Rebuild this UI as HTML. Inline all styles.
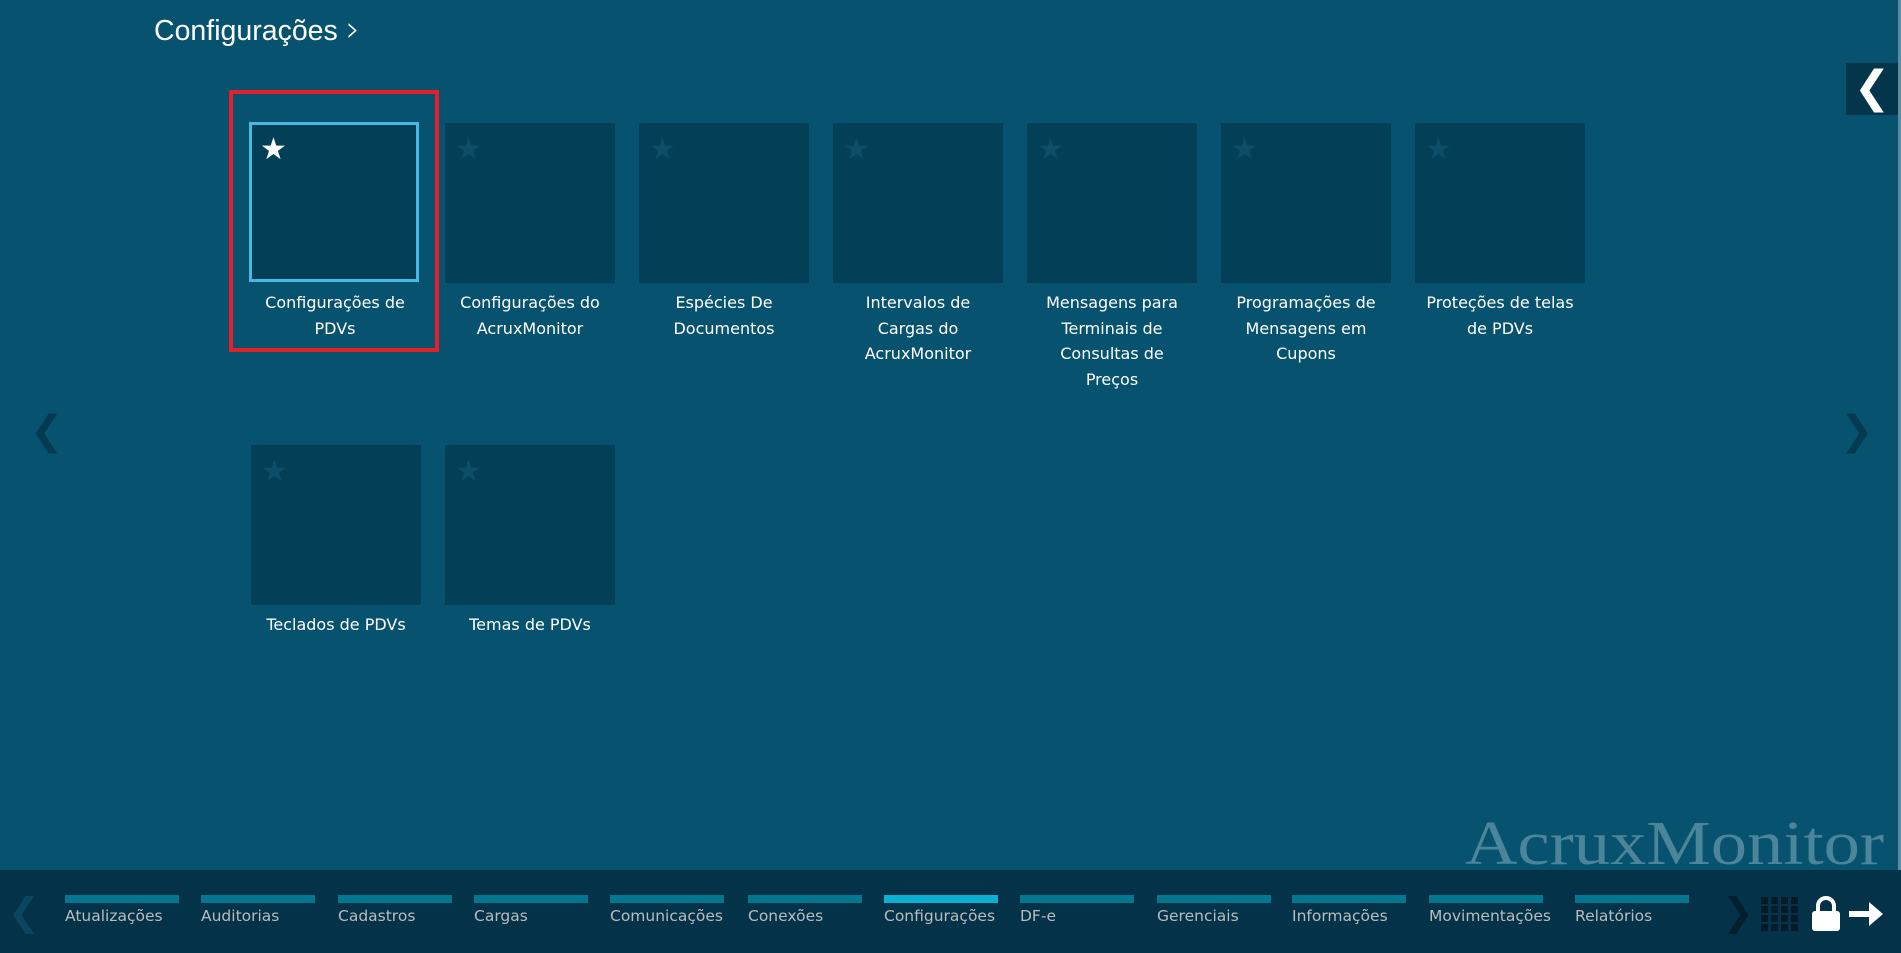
<!DOCTYPE html>
<html><head><meta charset="utf-8"><style>
*{margin:0;padding:0;box-sizing:border-box}
body{width:1901px;height:953px;overflow:hidden;background:#07536f;position:relative;font-family:"DejaVu Sans","Liberation Sans",sans-serif}
.title{position:absolute;left:154px;top:8px;font:28.5px "Liberation Sans",sans-serif;color:#fff;white-space:nowrap}
.tile{position:absolute;width:170px;height:160px;background:#033f57}
.tile .st{position:absolute;left:10px;top:12px;font-size:30px;color:#0d4d67;line-height:1}
.lbl{position:absolute;width:194px;text-align:center;color:#fff;font-size:16px;line-height:25.5px}
.red{position:absolute;left:229px;top:90px;width:210px;height:262px;border:4px solid #e5202a}
.bar{position:absolute;left:0;top:870px;width:1901px;height:83px;background:#043349}
.nav{position:absolute;top:895px}
.nav i{display:block;width:114px;height:8px;background:#057690}
.nav span{position:absolute;top:12px;left:0;white-space:nowrap;color:#b8bcbd;font-size:15.5px}
.wm{position:absolute;left:1465px;top:809px;font:62px "Liberation Serif",serif;color:#4b8599;transform:scaleX(1.17);transform-origin:0 0;white-space:nowrap}
</style></head><body>
<div class="title">Configurações <span style="font:36px 'DejaVu Sans';font-weight:200;position:relative;top:1px">&#x203A;</span></div>
<div style="position:absolute;left:1846px;top:63px;width:52px;height:52px;background:#03354b;color:#fff;font:bold 44px 'DejaVu Sans';text-align:center;line-height:50px">&#x276E;</div>
<div style="position:absolute;left:1898px;top:0;width:3px;height:870px;background:#5f8da0"></div>
<div style="position:absolute;left:30px;top:408px;color:#043a52;font-size:40px">&#x276E;</div>
<div style="position:absolute;left:1840px;top:408px;color:#043a52;font-size:40px">&#x276F;</div>

<div class="red"></div>
<div class="tile" style="left:249px;top:122px;border:3px solid #49b8e4"><div class="st" style="color:#fff;left:8px;top:10px">★</div></div>
<div class="tile" style="left:445px;top:123px"><div class="st">★</div></div>
<div class="tile" style="left:639px;top:123px"><div class="st">★</div></div>
<div class="tile" style="left:833px;top:123px"><div class="st">★</div></div>
<div class="tile" style="left:1027px;top:123px"><div class="st">★</div></div>
<div class="tile" style="left:1221px;top:123px"><div class="st">★</div></div>
<div class="tile" style="left:1415px;top:123px"><div class="st">★</div></div>
<div class="tile" style="left:251px;top:445px"><div class="st">★</div></div>
<div class="tile" style="left:445px;top:445px"><div class="st">★</div></div>

<div class="lbl" style="left:238px;top:290px">Configurações de<br>PDVs</div>
<div class="lbl" style="left:433px;top:290px">Configurações do<br>AcruxMonitor</div>
<div class="lbl" style="left:627px;top:290px">Espécies De<br>Documentos</div>
<div class="lbl" style="left:821px;top:290px">Intervalos de<br>Cargas do<br>AcruxMonitor</div>
<div class="lbl" style="left:1015px;top:290px">Mensagens para<br>Terminais de<br>Consultas de<br>Preços</div>
<div class="lbl" style="left:1209px;top:290px">Programações de<br>Mensagens em<br>Cupons</div>
<div class="lbl" style="left:1403px;top:290px">Proteções de telas<br>de PDVs</div>
<div class="lbl" style="left:239px;top:612px">Teclados de PDVs</div>
<div class="lbl" style="left:433px;top:612px">Temas de PDVs</div>

<div class="wm">AcruxMonitor</div>
<div class="bar"></div>
<div style="position:absolute;left:8px;top:890px;color:#0b4660;font-size:38px">&#x276E;</div>
<div class="nav" style="left:65px"><i></i><span>Atualizações</span></div>
<div class="nav" style="left:201px"><i></i><span>Auditorias</span></div>
<div class="nav" style="left:338px"><i></i><span>Cadastros</span></div>
<div class="nav" style="left:474px"><i></i><span>Cargas</span></div>
<div class="nav" style="left:610px"><i></i><span>Comunicações</span></div>
<div class="nav" style="left:748px"><i></i><span>Conexões</span></div>
<div class="nav" style="left:884px"><i style="background:#0bb0d2"></i><span>Configurações</span></div>
<div class="nav" style="left:1020px"><i></i><span>DF-e</span></div>
<div class="nav" style="left:1157px"><i></i><span>Gerenciais</span></div>
<div class="nav" style="left:1292px"><i></i><span>Informações</span></div>
<div class="nav" style="left:1429px"><i></i><span>Movimentações</span></div>
<div class="nav" style="left:1575px"><i></i><span>Relatórios</span></div>
<div style="position:absolute;left:1722px;top:890px;color:#011f2d;font-size:38px">&#x276F;</div>
<svg style="position:absolute;left:1761px;top:897px" width="37" height="35">
<g fill="#011c28">
<rect x="0" y="0" width="7" height="7"/><rect x="10" y="0" width="7" height="7"/><rect x="20" y="0" width="7" height="7"/><rect x="30" y="0" width="7" height="7"/>
<rect x="0" y="9" width="7" height="7"/><rect x="10" y="9" width="7" height="7"/><rect x="20" y="9" width="7" height="7"/><rect x="30" y="9" width="7" height="7"/>
<rect x="0" y="18" width="7" height="7"/><rect x="10" y="18" width="7" height="7"/><rect x="20" y="18" width="7" height="7"/><rect x="30" y="18" width="7" height="7"/>
<rect x="0" y="27" width="7" height="7"/><rect x="10" y="27" width="7" height="7"/><rect x="20" y="27" width="7" height="7"/><rect x="30" y="27" width="7" height="7"/>
</g></svg>
<svg style="position:absolute;left:1811px;top:896px" width="30" height="36">
<path d="M7 16 V10 a8 8 0 0 1 16 0 V16" fill="none" stroke="#fff" stroke-width="4"/>
<rect x="1" y="15" width="28" height="20" rx="3" fill="#fff"/></svg>
<svg style="position:absolute;left:1849px;top:900px" width="36" height="28">
<path d="M0 11 H20 V2 L34 14 L20 26 V17 H0 Z" fill="#fff"/></svg>
</body></html>
